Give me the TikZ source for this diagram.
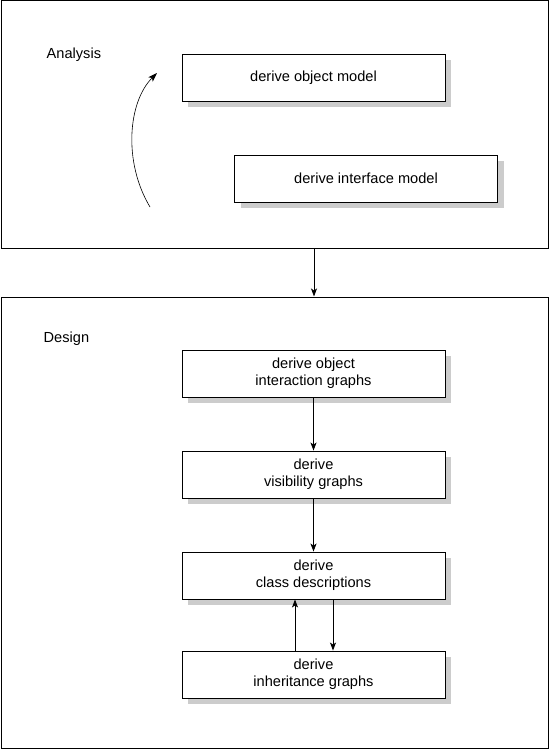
\documentclass[tikz,border=0pt]{standalone}
\usepackage{fontspec}
\setmainfont{Liberation Sans}
\usetikzlibrary{shadows,arrows.meta}
\begin{document}
\begin{tikzpicture}[x=1pt,y=-1pt,
  every node/.style={font=\fontsize{14.6}{16.8}\selectfont},
  frame/.style={draw,line width=1pt},
  task/.style={draw,fill=white,line width=0.9pt,minimum width=263pt,minimum height=47pt,
    align=center,inner sep=0pt,
    drop shadow={shadow xshift=6pt,shadow yshift=-6pt,fill=black!20,opacity=1}},
  arr/.style={line width=0.9pt,-{Stealth[length=8pt,width=6pt,inset=2pt]}},
  lbl/.style={anchor=base west,inner sep=0pt}]
\useasboundingbox (0,0) rectangle (549,749);
% frames
\node[frame,minimum width=547pt,minimum height=247pt,inner sep=0pt] (ana) at (274.5,124.5) {};
\node[frame,minimum width=547pt,minimum height=451pt,inner sep=0pt] (des) at (274.5,522.5) {};
\node[lbl] (analab) at (46.5,59) {Analysis};
\node[lbl] (deslab) at (43.5,342) {Design};
% analysis tasks
\node[task] (om) at (313.5,77.5) {derive object model};
\node[task] (im) at (366,178.5) {derive interface model};
\coordinate (cs) at (150,207);
\coordinate (ce) at (157,73);
\draw[line width=0.6pt,-{Stealth[length=9pt,width=6pt,inset=2pt]}] (cs) .. controls (123,162) and (128,102) .. (ce);
% design tasks
\node[task] (oig) at (313.5,373.5) {derive object\\interaction graphs};
\node[task] (vg) at (313.5,474.5) {derive\\visibility graphs};
\node[task] (cd) at (313.5,575.5) {derive\\class descriptions};
\node[task] (ig) at (313.5,674.5) {derive\\inheritance graphs};
% connectors
\draw[arr] (ana.south -| 314,0) -- (des.north -| 314,0);
\draw[arr] (oig) -- (vg);
\draw[arr] (vg) -- (cd);
\draw[arr] (ig.north -| 295,0) -- (cd.south -| 295,0);
\draw[arr] (cd.south -| 333,0) -- (ig.north -| 333,0);
\end{tikzpicture}
\end{document}
